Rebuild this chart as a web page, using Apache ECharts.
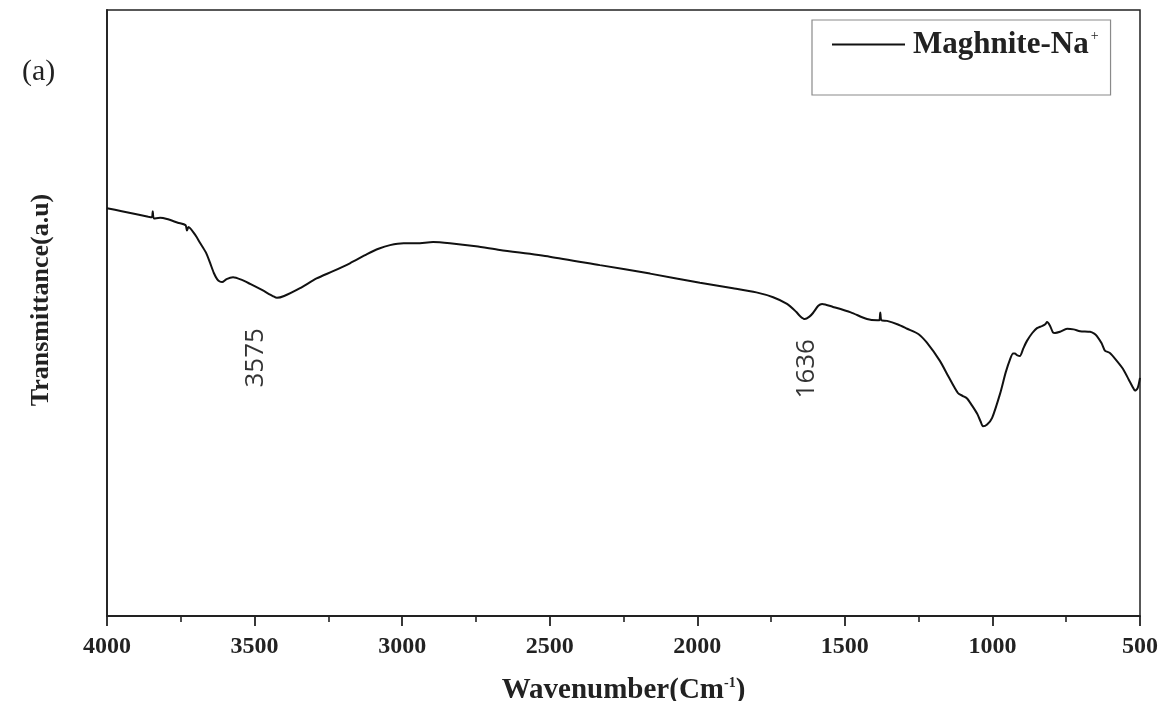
<!DOCTYPE html>
<html>
<head>
<meta charset="utf-8">
<script src="https://cdn.jsdelivr.net/npm/echarts@6/dist/echarts.min.js"></script>
<style>
  html, body { margin: 0; padding: 0; background: #fff; }
  #chart { width: 1172px; height: 701px; }
</style>
</head>
<body>
<div id="chart"></div>
<script>
// FTIR spectrum of Maghnite-Na+ (wavenumber in cm-1, transmittance in arbitrary units)
const wavenumber = [
  4000, 3950, 3900, 3860, 3848, 3845, 3841, 3820, 3797, 3760, 3734, 3729, 3724,
  3700, 3685, 3665, 3651, 3638, 3627, 3618, 3610, 3595, 3573, 3545, 3515, 3475,
  3438, 3424, 3400, 3346, 3290, 3234, 3177, 3119, 3080, 3041, 2995, 2950, 2895,
  2838, 2750, 2669, 2500, 2330, 2160, 1991, 1879, 1800, 1743, 1696, 1665, 1652,
  1636, 1620, 1608, 1590, 1577, 1540, 1480, 1425, 1390, 1383, 1380, 1376, 1357,
  1320, 1289, 1250, 1222, 1178, 1150, 1117, 1100, 1086, 1070, 1052, 1040, 1032,
  1018, 1001, 974, 955, 940, 930, 924, 915, 907, 895, 883, 865, 849, 835, 829,
  820, 815, 805, 795, 788, 771, 747, 725, 703, 669, 655, 646, 630, 619, 602,
  580, 558, 538, 525, 517, 508, 500
];
const transmittance = [
  67.3, 66.8, 66.3, 65.9, 65.8, 66.8, 65.6, 65.7, 65.5, 64.9, 64.5, 63.6, 64.2,
  62.8, 61.6, 60.0, 58.3, 56.6, 55.6, 55.2, 55.1, 55.6, 55.9, 55.5, 54.8, 53.8,
  52.8, 52.5, 52.8, 54.1, 55.7, 56.9, 58.2, 59.7, 60.6, 61.2, 61.5, 61.5, 61.7,
  61.5, 61.0, 60.4, 59.3, 57.9, 56.5, 55.0, 54.1, 53.4, 52.6, 51.5, 50.2, 49.5,
  49.0, 49.4, 50.0, 51.2, 51.5, 51.0, 50.1, 49.0, 48.8, 48.8, 50.1, 48.8, 48.7,
  48.1, 47.4, 46.5, 45.1, 42.1, 39.6, 36.8, 36.3, 35.9, 34.8, 33.4, 32.1, 31.3,
  31.6, 32.7, 36.7, 40.2, 42.4, 43.3, 43.3, 43.0, 42.9, 44.2, 45.4, 46.7, 47.5,
  47.8, 47.9, 48.2, 48.5, 47.9, 46.8, 46.7, 46.9, 47.4, 47.3, 47.0, 46.9, 46.6,
  46.2, 45.0, 43.8, 43.4, 42.2, 40.8, 39.0, 37.8, 37.2, 37.6, 39.3
];

// Band annotations: text and the point where each rotated label sits
const bandLabels = ['3575', '1636'];
const bandLabelX = [3495, 1628];
const bandLabelY = [42.6, 40.8];

// Axis ticks
const xTicks = [4000, 3500, 3000, 2500, 2000, 1500, 1000, 500];

const chart = echarts.init(document.getElementById('chart'), null, { renderer: 'canvas' });

const serif = '"Liberation Serif", "Times New Roman", serif';

chart.setOption({
  animation: false,
  backgroundColor: '#ffffff',
  grid: {
    left: 107, right: 32, top: 10, bottom: 85,
    outerBoundsMode: 'none',
    containLabel: false,
    show: true, borderColor: '#222', borderWidth: 1.5, backgroundColor: 'transparent'
  },
  legend: {
    data: ['Maghnite-Na'],
    left: 812, top: 20,
    orient: 'horizontal',
    padding: [9, 12, 35, 20],
    backgroundColor: '#fff',
    borderColor: '#8a8a8a',
    borderWidth: 1.2,
    borderRadius: 0,
    icon: 'rect',
    itemWidth: 73,
    itemHeight: 2,
    itemGap: 8,
    formatter: function (name) { return '{n|' + name + '}{s|+}'; },
    textStyle: {
      rich: {
        n: { fontFamily: serif, fontWeight: 'bold', fontSize: 31, color: '#222', padding: [0, 0, 0, 3] },
        s: { fontFamily: serif, fontSize: 14, color: '#222', verticalAlign: 'top', padding: [0, 0, 16, 2] }
      }
    }
  },
  xAxis: [{
    type: 'value',
    inverse: true,
    min: 500, max: 4000, interval: 500,
    position: 'bottom',
    name: '{n|Wavenumber(Cm}{s|-1}{n|)}',
    nameLocation: 'middle',
    nameGap: 60,
    nameTextStyle: {
      rich: {
        n: { fontFamily: serif, fontWeight: 'bold', fontSize: 29, color: '#222' },
        s: { fontFamily: serif, fontWeight: 'bold', fontSize: 14, color: '#222', verticalAlign: 'top', padding: [0, 0, 14, 0] }
      }
    },
    axisLine: { show: true, lineStyle: { color: '#222', width: 1.8 } },
    axisTick: { show: true, inside: false, length: 10, lineStyle: { color: '#222', width: 1.8 } },
    minorTick: { show: true, splitNumber: 2, length: 6, lineStyle: { color: '#222', width: 1.6 } },
    splitLine: { show: false },
    axisLabel: {
      margin: 19,
      fontFamily: serif, fontWeight: 'bold', fontSize: 24, color: '#222',
      formatter: function (v) { return xTicks.indexOf(v) >= 0 ? String(v) : ''; }
    }
  }],
  yAxis: [{
    type: 'value',
    min: 0, max: 100,
    name: 'Transmittance(a.u)',
    nameLocation: 'middle',
    nameGap: 53,
    nameTextStyle: { fontFamily: serif, fontWeight: 'bold', fontSize: 26, color: '#222', padding: [0, 0, 0, 26] },
    axisLine: { show: true, lineStyle: { color: '#222', width: 1.8 } },
    axisTick: { show: false },
    axisLabel: { show: false },
    splitLine: { show: false }
  }],
  graphic: [{
    type: 'text',
    left: 22, top: 57,
    style: { text: '(a)', fontFamily: serif, fontSize: 30, fill: '#222' }
  }],
  series: [{
    name: 'Maghnite-Na',
    type: 'line',
    data: wavenumber.map((w, i) => [w, transmittance[i]]),
    showSymbol: false,
    symbol: 'none',
    smooth: 0.25,
    lineStyle: { color: '#111', width: 2 },
    itemStyle: { color: '#111' },
    z: 3
  }, {
    name: 'bands',
    type: 'scatter',
    data: bandLabelX.map((x, i) => ({ value: [x, bandLabelY[i]], name: bandLabels[i] })),
    symbolSize: 0,
    silent: true,
    label: {
      show: true,
      position: 'inside',
      rotate: 90,
      formatter: function (p) { return p.name; },
      fontFamily: '"Open Sans", "Noto Sans", sans-serif',
      fontSize: 26,
      color: '#000'
    }
  }]
});
</script>
</body>
</html>
